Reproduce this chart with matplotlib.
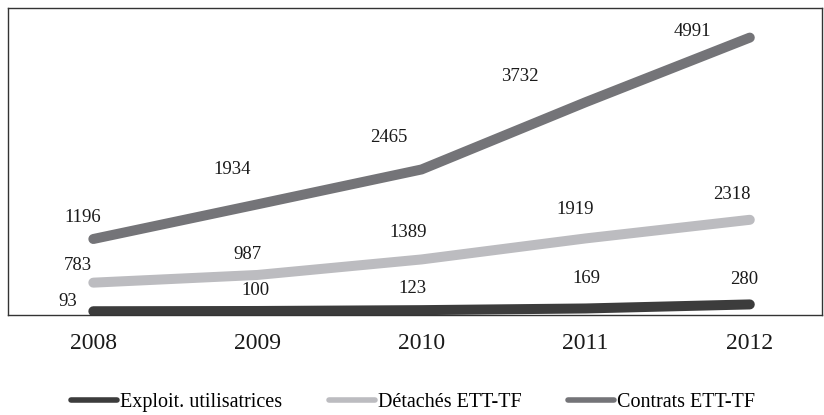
import matplotlib.pyplot as plt

# Data (stacked line chart)
years = ['2008', '2009', '2010', '2011', '2012']
exploit = [93, 100, 123, 169, 280]
detaches = [783, 987, 1389, 1919, 2318]
contrats = [1196, 1934, 2465, 3732, 4991]

names = ['Exploit. utilisatrices', 'Détachés ETT-TF', 'Contrats ETT-TF']
colors = ['#3c3c3c', '#bcbcc0', '#747478']

# label offsets in pixels (dx, dy) relative to each point
offsets = [
    [(-26, 10), (-2, 20), (-9, 22), (1, 30), (-6, 25)],
    [(-16, 17), (-10, 20), (-13, 27), (-11, 29), (-18, 25)],
    [(-11, 21), (-25, 35), (-33, 32), (-66, 26), (-57, 6)],
]

plt.rcParams['font.family'] = 'Liberation Serif'

fig = plt.figure(figsize=(8.24, 4.15), dpi=100)
ax = fig.add_axes([8 / 824, 100 / 415, 814 / 824, 307 / 415])

x = list(range(len(years)))
series = [exploit, detaches, contrats]
base = [0] * len(years)
for vals, name, col, offs in zip(series, names, colors, offsets):
    cum = [b + v for b, v in zip(base, vals)]
    ax.plot(x, cum, color=col, lw=7.2, solid_capstyle='round',
            solid_joinstyle='miter', label=name)
    for xi, yi, v, (dx, dy) in zip(x, cum, vals, offs):
        ax.annotate(str(v), (xi, yi), xytext=(dx, dy), textcoords='offset pixels',
                    ha='center', va='center', fontsize=13.5, color='#1a1a1a')
    base = cum

ax.set_xlim(-0.52, 4.44)
ax.set_ylim(-10, 8400)
ax.set_xticks(x)
ax.set_xticklabels(years, fontsize=17, color='#1a1a1a')
ax.tick_params(axis='x', length=0, pad=13)
ax.set_yticks([])
for s in ax.spines.values():
    s.set_color('#333333')
    s.set_linewidth(1.0)

leg = fig.legend(loc='center', bbox_to_anchor=(413 / 824, 13 / 415), ncol=3,
                 frameon=False, fontsize=14.5, handlelength=2.3,
                 handletextpad=0.15, columnspacing=2.3)
for h in leg.get_lines():
    h.set_linewidth(4)

plt.savefig('out.png', dpi=100)
